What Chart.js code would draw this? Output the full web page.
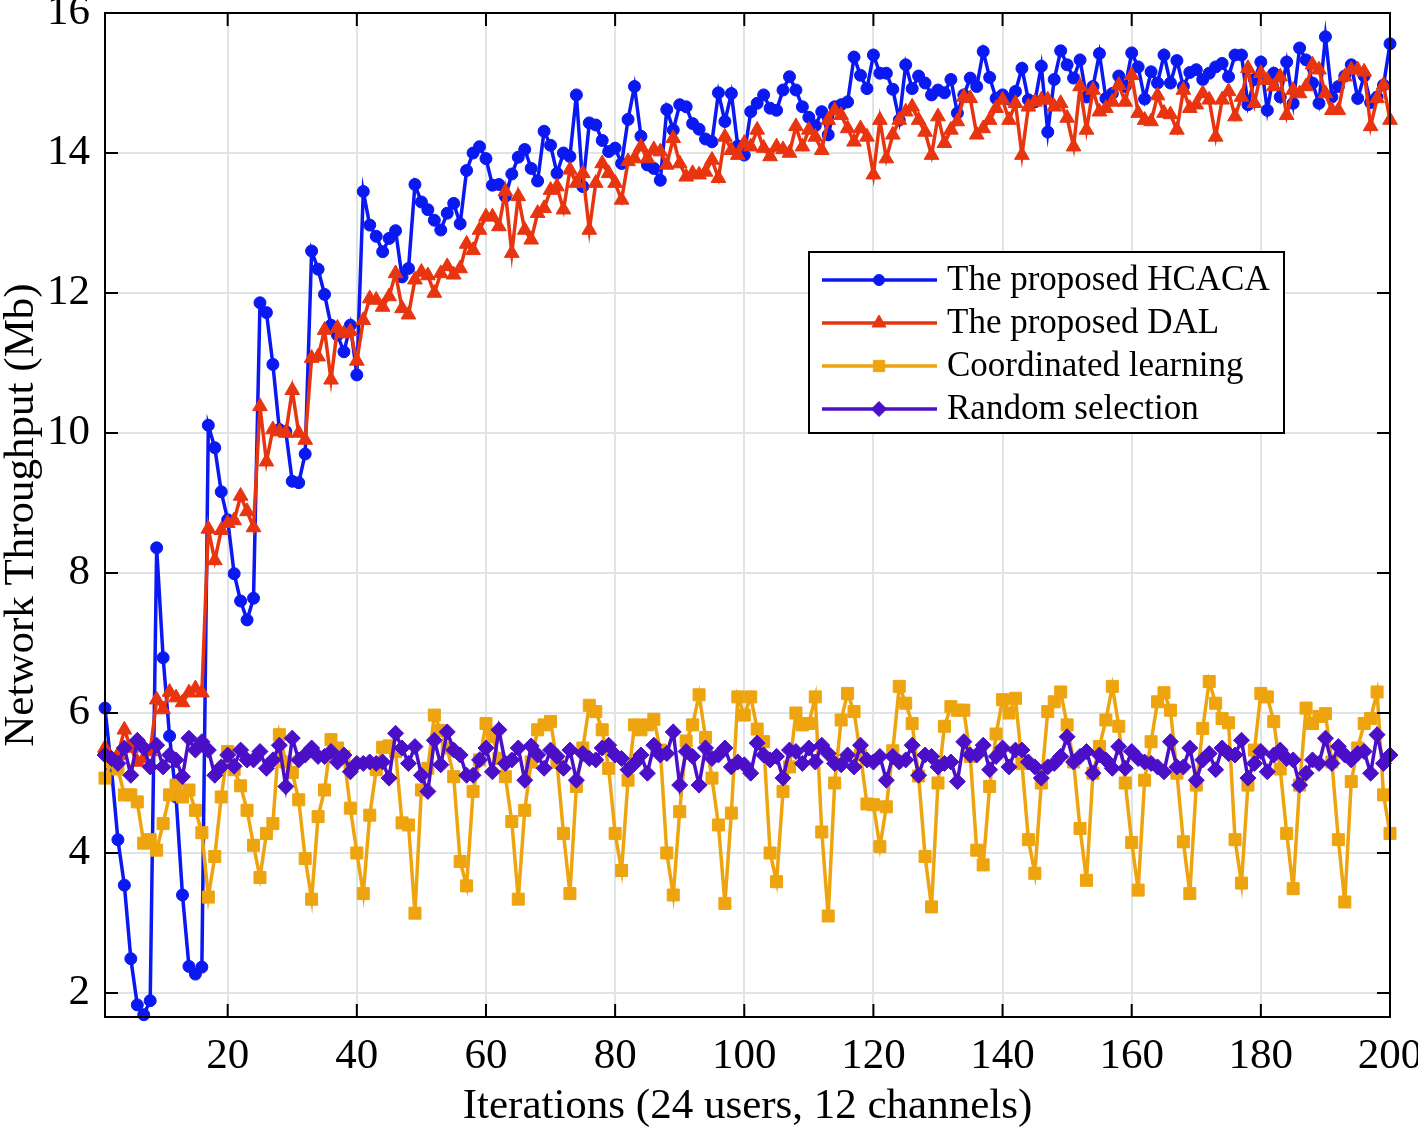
<!DOCTYPE html>
<html><head><meta charset="utf-8">
<script src="https://cdn.jsdelivr.net/npm/chart.js@4.4.0/dist/chart.umd.min.js"></script>
<style>html,body{margin:0;padding:0;background:#fff}#wrap{position:relative;width:1418px;height:1130px}</style>
</head><body><div id="wrap"><canvas id="c" width="1418" height="1130"></canvas></div>
<script>
const seriesNames = ['The proposed HCACA', 'The proposed DAL', 'Coordinated learning', 'Random selection'];
const xTicks = [20, 40, 60, 80, 100, 120, 140, 160, 180, 200];
const yTicks = [2, 4, 6, 8, 10, 12, 14, 16];
const xTitle = 'Iterations (24 users, 12 channels)';
const yTitle = 'Network Throughput (Mb)';

const hcaca = [
6.07,5.20,4.19,3.54,2.49,1.83,1.69,1.89,8.36,6.79,5.67,4.80,3.40,2.38,2.27,2.37,10.11,9.79,9.16,8.76,
7.99,7.60,7.33,7.64,11.86,11.72,10.98,10.05,10.02,9.31,9.29,9.70,12.60,12.34,11.98,11.54,11.40,11.16,11.54,10.83,
13.45,12.97,12.81,12.59,12.78,12.89,12.23,12.35,13.55,13.30,13.19,13.04,12.90,13.14,13.28,12.99,13.75,14.00,14.09,13.92,
13.54,13.55,13.38,13.70,13.94,14.05,13.78,13.60,14.31,14.11,13.71,14.00,13.95,14.83,13.52,14.43,14.40,14.18,14.02,14.07,
13.85,14.48,14.95,14.24,13.83,13.78,13.61,14.62,14.33,14.69,14.66,14.42,14.34,14.20,14.16,14.86,14.45,14.85,14.10,13.97,
14.59,14.71,14.83,14.64,14.61,14.90,15.09,14.90,14.66,14.51,14.39,14.59,14.26,14.66,14.69,14.73,15.37,15.11,14.92,15.40,
15.14,15.14,14.91,14.47,15.26,14.92,15.10,15.00,14.83,14.90,14.86,15.05,14.57,14.83,15.07,14.95,15.45,15.08,14.78,14.83,
14.77,14.88,15.21,14.76,14.73,15.24,14.30,15.05,15.46,15.26,15.07,15.33,14.80,14.95,15.42,14.78,14.85,15.10,14.95,15.43,
15.23,14.77,15.16,15.00,15.40,15.00,15.32,14.95,15.15,15.19,15.05,15.14,15.23,15.28,15.09,15.40,15.40,14.69,15.05,15.30,
14.61,15.14,14.80,15.30,14.71,15.50,15.33,15.00,14.71,15.66,14.80,14.95,15.10,15.26,14.78,15.10,14.72,14.80,14.97,15.56
];
const dal = [
5.50,5.30,5.40,5.76,5.50,5.30,5.35,5.45,6.19,6.05,6.30,6.22,6.15,6.29,6.35,6.29,8.63,8.18,8.61,8.71,
8.75,9.10,8.88,8.65,10.38,9.59,10.05,10.02,10.00,10.61,10.00,9.90,11.07,11.09,11.47,10.76,11.50,11.42,11.45,11.03,
11.61,11.92,11.90,11.80,11.95,12.28,11.78,11.69,12.19,12.30,12.25,12.00,12.28,12.38,12.26,12.35,12.70,12.61,12.90,13.09,
13.09,12.95,13.45,12.57,13.38,12.90,12.76,13.14,13.21,13.47,13.52,13.19,13.76,13.57,13.71,12.90,13.57,13.85,13.71,13.57,
13.33,13.88,13.92,14.09,13.92,14.05,14.02,13.83,14.21,13.85,13.66,13.71,13.69,13.73,13.90,13.64,14.23,14.04,13.97,14.14,
14.09,14.33,14.07,13.95,14.09,14.05,14.00,14.38,14.09,14.33,14.23,14.04,14.47,14.61,14.54,14.35,14.16,14.35,14.23,13.69,
14.47,13.92,14.26,14.47,14.59,14.66,14.47,14.30,13.97,14.52,14.14,14.33,14.45,14.80,14.78,14.26,14.35,14.47,14.64,14.76,
14.47,14.71,13.97,14.66,14.73,14.76,14.76,14.66,14.71,14.50,14.09,14.95,14.33,14.90,14.59,14.64,14.73,14.97,14.73,15.11,
14.57,14.47,14.45,14.82,14.57,14.55,14.33,14.90,14.64,14.69,14.85,14.76,14.23,14.76,14.88,14.52,14.80,15.21,14.71,15.14,
15.04,14.95,15.09,14.54,14.90,14.85,14.95,15.26,15.19,14.85,14.61,14.61,15.09,15.19,15.19,15.16,14.38,14.78,14.97,14.47
];
const coordinated = [
5.07,5.30,5.20,4.83,4.83,4.73,4.14,4.19,4.04,4.42,4.83,4.97,4.80,4.90,4.61,4.29,3.37,3.95,4.80,5.45,
5.19,4.96,4.61,4.11,3.65,4.28,4.42,5.69,5.30,5.15,4.76,3.92,3.34,4.52,4.90,5.62,5.50,5.38,4.64,4.00,
3.42,4.54,5.19,5.51,5.53,5.45,4.43,4.40,3.14,4.90,5.21,5.97,5.75,5.50,5.09,3.88,3.53,4.88,5.33,5.85,
5.66,5.35,5.09,4.45,3.34,4.61,5.30,5.76,5.83,5.88,5.30,4.28,3.42,4.95,5.50,6.11,6.02,5.76,5.21,4.28,
3.75,5.04,5.83,5.76,5.83,5.91,5.47,4.00,3.40,4.59,5.60,5.83,6.26,5.65,5.07,4.40,3.28,4.57,6.23,5.97,
6.23,5.77,5.59,4.00,3.59,4.88,5.23,6.00,5.83,5.85,6.23,4.30,3.10,5.00,5.90,6.28,6.02,5.40,4.70,4.69,
4.09,4.66,5.46,6.38,6.14,5.85,5.10,3.95,3.23,5.00,5.81,6.09,6.04,6.04,5.38,4.04,3.83,4.95,5.70,6.19,
6.00,6.21,5.28,4.19,3.71,5.00,6.02,6.16,6.30,5.83,5.30,4.35,3.61,5.14,5.52,5.90,6.38,5.81,5.00,4.15,
3.47,5.04,5.59,6.16,6.29,6.04,5.14,4.16,3.42,4.97,5.78,6.45,6.14,5.92,5.86,4.19,3.57,4.97,5.47,6.28,
6.23,5.88,5.20,4.28,3.49,4.97,6.07,5.85,5.95,5.99,5.30,4.19,3.30,5.02,5.50,5.85,5.92,6.30,4.83,4.28
];
const randomSel = [
5.40,5.35,5.28,5.50,5.11,5.61,5.50,5.23,5.54,5.23,5.40,5.33,5.09,5.64,5.47,5.59,5.47,5.11,5.23,5.40,
5.24,5.47,5.33,5.33,5.45,5.21,5.33,5.54,4.95,5.64,5.33,5.40,5.50,5.38,5.38,5.45,5.30,5.40,5.16,5.28,
5.28,5.30,5.28,5.30,5.07,5.71,5.50,5.28,5.52,5.11,4.88,5.61,5.26,5.73,5.47,5.40,5.11,5.11,5.33,5.50,
5.16,5.76,5.28,5.33,5.50,5.04,5.53,5.40,5.21,5.47,5.38,5.21,5.47,5.04,5.42,5.35,5.33,5.50,5.54,5.40,
5.35,5.19,5.28,5.40,5.14,5.54,5.40,5.42,5.73,4.97,5.45,5.38,4.97,5.50,5.35,5.40,5.50,5.23,5.30,5.26,
5.14,5.57,5.40,5.33,5.38,5.07,5.47,5.45,5.28,5.50,5.30,5.54,5.42,5.28,5.26,5.40,5.23,5.54,5.33,5.30,
5.38,5.04,5.38,5.30,5.33,5.54,5.11,5.40,5.38,5.23,5.28,5.30,5.02,5.59,5.40,5.40,5.54,5.19,5.38,5.50,
5.23,5.47,5.47,5.30,5.23,5.07,5.23,5.28,5.38,5.66,5.30,5.38,5.45,5.14,5.40,5.33,5.21,5.52,5.21,5.45,
5.35,5.30,5.28,5.23,5.16,5.59,5.23,5.23,5.50,5.04,5.33,5.42,5.19,5.50,5.42,5.40,5.61,5.07,5.28,5.45,
5.16,5.40,5.47,5.35,5.33,4.97,5.14,5.33,5.28,5.64,5.28,5.52,5.40,5.33,5.42,5.45,5.14,5.69,5.28,5.40
];

const colors = ['#0a18f2', '#e8340f', '#eea40e', '#4a0fc6'];
const styles = ['circle', 'triangle', 'rect', 'rectRot'];
const radii = [6, 8.5, 8.5, 8];
const allSeries = [hcaca, dal, coordinated, randomSel];
const FONT = '"Liberation Serif", "Times New Roman", serif';

const datasets = allSeries.map((vals, k) => ({
  label: seriesNames[k],
  data: vals.map((v, i) => ({x: i + 1, y: v})),
  borderColor: colors[k],
  backgroundColor: colors[k],
  pointBackgroundColor: colors[k],
  pointBorderColor: colors[k],
  pointBorderWidth: 1,
  pointStyle: styles[k],
  pointRadius: radii[k],
  borderWidth: 3.5,
  tension: 0,
  clip: false,
  order: 4 - k
}));

const frameAndTicks = {
  id: 'frameAndTicks',
  afterDatasetsDraw(chart) {
    const {ctx, chartArea: a, scales: {x, y}} = chart;
    ctx.save();
    ctx.strokeStyle = '#000';
    ctx.lineWidth = 2;
    ctx.strokeRect(a.left, a.top, a.right - a.left, a.bottom - a.top);
    const L = 13;
    ctx.beginPath();
    xTicks.forEach(v => {
      const px = x.getPixelForValue(v);
      ctx.moveTo(px, a.bottom); ctx.lineTo(px, a.bottom - L);
      ctx.moveTo(px, a.top); ctx.lineTo(px, a.top + L);
    });
    yTicks.forEach(v => {
      const py = y.getPixelForValue(v);
      ctx.moveTo(a.left, py); ctx.lineTo(a.left + L, py);
      ctx.moveTo(a.right, py); ctx.lineTo(a.right - L, py);
    });
    ctx.stroke();
    ctx.restore();
  }
};

const boxLegend = {
  id: 'boxLegend',
  afterDraw(chart) {
    const {ctx} = chart;
    const bx = 809, by = 252, bw = 475, bh = 181;
    ctx.save();
    ctx.fillStyle = '#fff';
    ctx.fillRect(bx, by, bw, bh);
    ctx.strokeStyle = '#000';
    ctx.lineWidth = 2;
    ctx.strokeRect(bx, by, bw, bh);
    ctx.font = '35px ' + FONT;
    ctx.textBaseline = 'middle';
    ctx.textAlign = 'left';
    seriesNames.forEach((name, k) => {
      const cy = by + 28 + k * 43;
      ctx.strokeStyle = colors[k];
      ctx.lineWidth = 3.5;
      ctx.beginPath();
      ctx.moveTo(822, cy); ctx.lineTo(937, cy);
      ctx.stroke();
      ctx.fillStyle = colors[k];
      ctx.strokeStyle = colors[k];
      ctx.lineWidth = 1;
      Chart.helpers.drawPoint(ctx, {pointStyle: styles[k], radius: radii[k] - 0.5, rotation: 0, borderWidth: 1}, 879, cy);
      ctx.fillStyle = '#000';
      ctx.fillText(name, 947, cy + 1);
    });
    ctx.restore();
  }
};

const noOverhang = s => { s.paddingLeft = 0; s.paddingRight = 0; s.paddingTop = 0; s.paddingBottom = 0; };

new Chart(document.getElementById('c'), {
  type: 'line',
  data: {datasets},
  options: {
    responsive: false,
    animation: false,
    devicePixelRatio: 1,
    layout: {padding: {top: 13, right: 28, left: 0, bottom: 0}},
    plugins: {legend: {display: false}, tooltip: {enabled: false}},
    scales: {
      x: {
        type: 'linear', min: 1, max: 200,
        afterBuildTicks: s => { s.ticks = xTicks.map(v => ({value: v})); },
        afterFit: s => { s.height = 113; noOverhang(s); },
        grid: {color: '#dfe4e4', lineWidth: 2, drawTicks: false},
        border: {display: false},
        ticks: {color: '#000', font: {family: FONT, size: 43}, padding: 14, maxRotation: 0, autoSkip: false},
        title: {display: true, text: xTitle, color: '#000', font: {family: FONT, size: 43, lineHeight: 1}, padding: {top: 0, bottom: 2}}
      },
      y: {
        type: 'linear', min: 1.657, max: 16,
        afterBuildTicks: s => { s.ticks = yTicks.map(v => ({value: v})); },
        afterFit: s => { s.width = 105; noOverhang(s); },
        grid: {color: '#dfe4e4', lineWidth: 2, drawTicks: false},
        border: {display: false},
        ticks: {color: '#000', font: {family: FONT, size: 43}, padding: 15, autoSkip: false},
        title: {display: true, text: yTitle, color: '#000', font: {family: FONT, size: 43, lineHeight: 1}, padding: {top: 0, bottom: 0}}
      }
    }
  },
  plugins: [frameAndTicks, boxLegend]
});
</script></body></html>
